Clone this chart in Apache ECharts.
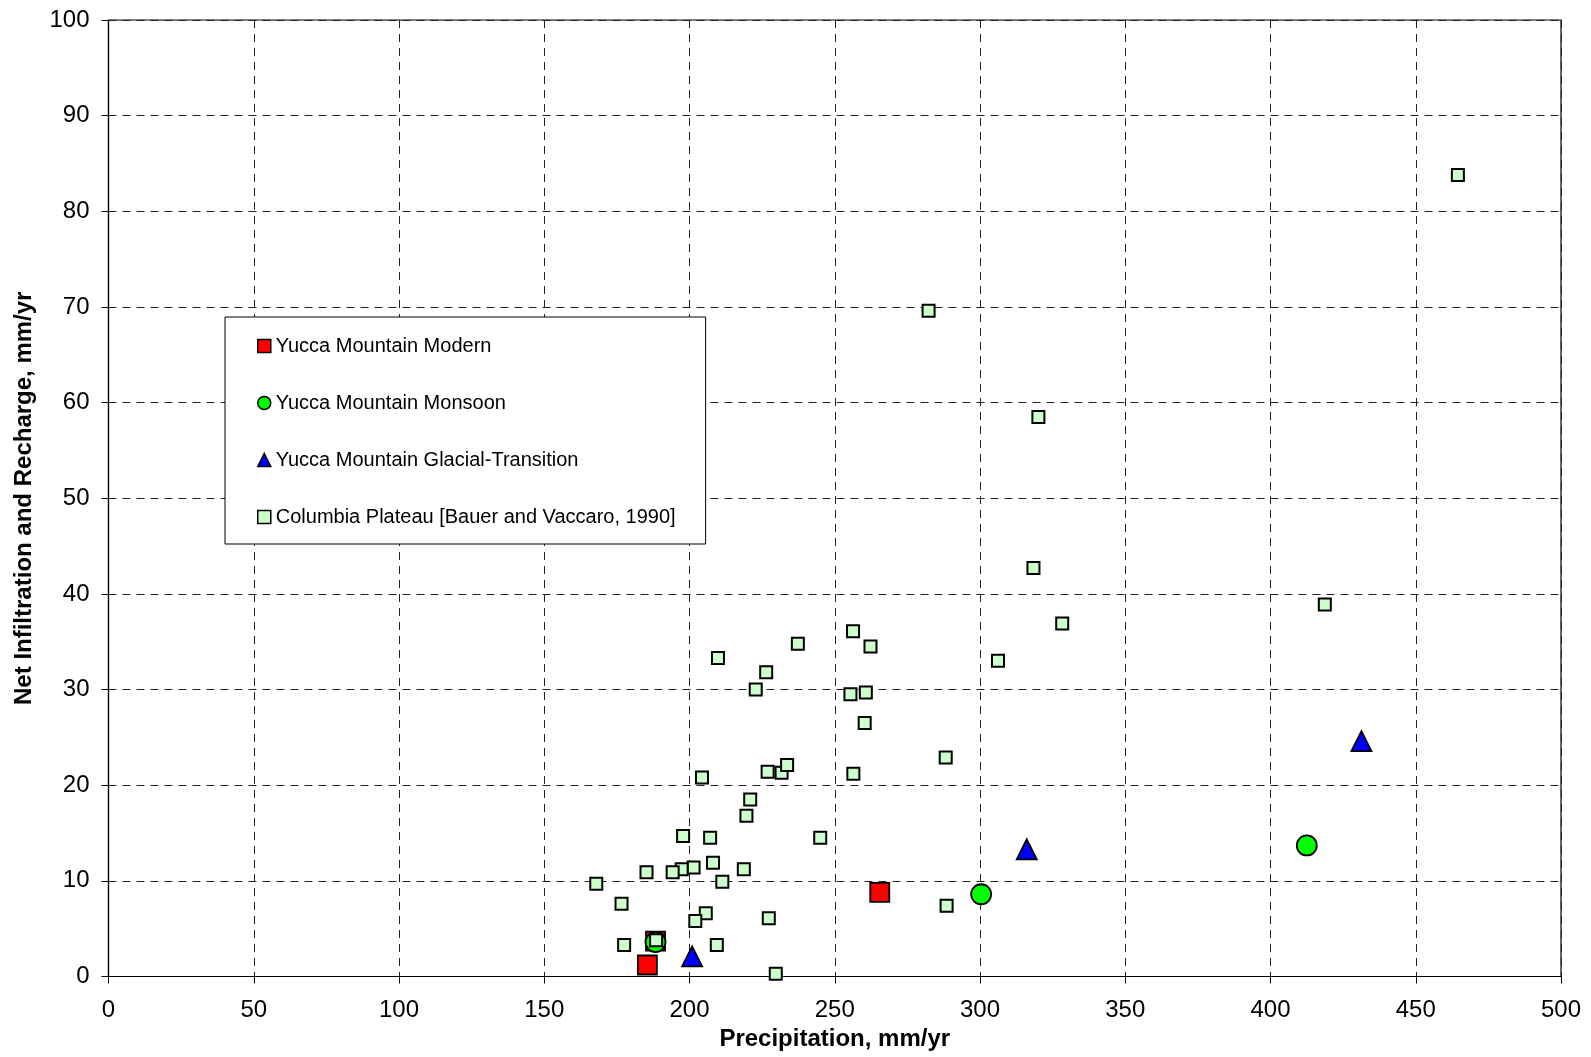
<!DOCTYPE html>
<html>
<head>
<meta charset="utf-8">
<script src="https://cdn.jsdelivr.net/npm/echarts@6/dist/echarts.min.js"></script>
<style>
html,body{margin:0;padding:0;background:#fff;}
#chart{width:1591px;height:1057px;}
</style>
</head>
<body>
<div id="chart"></div>
<script>
// ---- data ----
const seriesNames = [
  'Yucca Mountain Modern',
  'Yucca Mountain Monsoon',
  'Yucca Mountain Glacial-Transition',
  'Columbia Plateau [Bauer and Vaccaro, 1990]'
];
const yuccaModern = [[185.5, 1.2], [188.3, 3.7], [265.5, 8.8]];
const yuccaMonsoon = [[188.3, 3.6], [300.4, 8.6], [412.5, 13.7]];
const yuccaGlacial = [[200.9, 2.1], [316.1, 13.3], [431.3, 24.6]];
const columbiaPlateau = [
  [464.5, 83.8], [282.3, 69.6], [320.1, 58.5], [318.4, 42.7], [418.7, 38.9],
  [328.3, 36.9], [306.2, 33.0], [256.3, 36.1], [237.3, 34.8], [262.3, 34.5],
  [209.8, 33.3], [226.4, 31.8], [222.8, 30.0], [255.4, 29.5], [260.7, 29.7],
  [260.3, 26.5], [288.2, 22.9], [204.3, 20.8], [226.9, 21.4], [231.7, 21.3],
  [233.6, 22.1], [256.4, 21.2], [220.9, 18.5], [219.6, 16.8], [197.8, 14.7],
  [207.1, 14.5], [245.0, 14.5], [208.1, 11.9], [201.4, 11.4], [197.3, 11.2],
  [194.2, 10.9], [185.2, 10.9], [218.7, 11.2], [211.3, 9.9], [167.9, 9.7],
  [176.6, 7.6], [205.6, 6.6], [202.0, 5.8], [227.3, 6.1], [177.5, 3.3],
  [188.5, 3.8], [209.4, 3.3], [229.7, 0.3], [288.5, 7.4]
];
const xAxisName = 'Precipitation, mm/yr';
const yAxisName = 'Net Infiltration and Recharge, mm/yr';
const xMin = 0, xMax = 500, xStep = 50;
const yMin = 0, yMax = 100, yStep = 10;

// ---- chart ----
const FONT = '"Liberation Sans", Arial, sans-serif';
const chart = echarts.init(document.getElementById('chart'));
const gridLine = {show: true, lineStyle: {color: '#222', width: 1, type: [8, 6]}};
const option = {
  animation: false,
  backgroundColor: '#fff',
  grid: {left: 108.5, top: 20, right: 30, bottom: 80.5, show: true, borderColor: '#000', borderWidth: 1.2, backgroundColor: 'transparent'},
  legend: {
    orient: 'vertical',
    left: 225, top: 317,
    padding: [19, 30, 17, 32],
    itemGap: 37,
    itemWidth: 13, itemHeight: 13,
    backgroundColor: '#fff',
    borderColor: '#000', borderWidth: 1,
    textStyle: {fontFamily: FONT, fontSize: 20, color: '#000'},
    data: [
      {name: seriesNames[0], icon: 'rect', itemStyle: {color: '#ff0000', borderColor: '#000', borderWidth: 1.5}},
      {name: seriesNames[1], icon: 'circle', itemStyle: {color: '#00ff00', borderColor: '#000', borderWidth: 1.5}},
      {name: seriesNames[2], icon: 'triangle', itemStyle: {color: '#0000ff', borderColor: '#000', borderWidth: 1.5}},
      {name: seriesNames[3], icon: 'rect', itemStyle: {color: '#ccffcc', borderColor: '#000', borderWidth: 1.5}}
    ]
  },
  xAxis: {
    type: 'value', min: xMin, max: xMax, interval: xStep,
    name: xAxisName, nameLocation: 'middle', nameGap: 42,
    nameTextStyle: {fontFamily: FONT, fontSize: 24, fontWeight: 'bold', color: '#000'},
    axisLine: {show: true, lineStyle: {color: '#000', width: 1.2}},
    axisTick: {show: true, inside: false, length: 7, lineStyle: {color: '#000'}},
    axisLabel: {fontFamily: FONT, fontSize: 24, color: '#000', margin: 22},
    splitLine: gridLine
  },
  yAxis: {
    type: 'value', min: yMin, max: yMax, interval: yStep,
    name: yAxisName, nameLocation: 'middle', nameGap: 72,
    nameTextStyle: {fontFamily: FONT, fontSize: 24, fontWeight: 'bold', color: '#000'},
    axisLine: {show: true, lineStyle: {color: '#000', width: 1.2}},
    axisTick: {show: true, inside: false, length: 7, lineStyle: {color: '#000'}},
    axisLabel: {fontFamily: FONT, fontSize: 24, color: '#000', margin: 19},
    splitLine: gridLine
  },
  series: [
    {name: seriesNames[0], type: 'scatter', symbol: 'rect', symbolSize: 19, data: yuccaModern,
     itemStyle: {color: '#ff0000', borderColor: '#000', borderWidth: 1.8, opacity: 1}},
    {name: seriesNames[1], type: 'scatter', symbol: 'circle', symbolSize: 20, data: yuccaMonsoon,
     itemStyle: {color: '#00ff00', borderColor: '#000', borderWidth: 1.8, opacity: 1}},
    {name: seriesNames[2], type: 'scatter', symbol: 'triangle', symbolSize: 20, data: yuccaGlacial,
     itemStyle: {color: '#0000ff', borderColor: '#000', borderWidth: 1.8, opacity: 1}},
    {name: seriesNames[3], type: 'scatter', symbol: 'rect', symbolSize: 12, data: columbiaPlateau,
     itemStyle: {color: '#ccffcc', borderColor: '#000', borderWidth: 2, opacity: 1}}
  ]
};
chart.setOption(option);
</script>
</body>
</html>
